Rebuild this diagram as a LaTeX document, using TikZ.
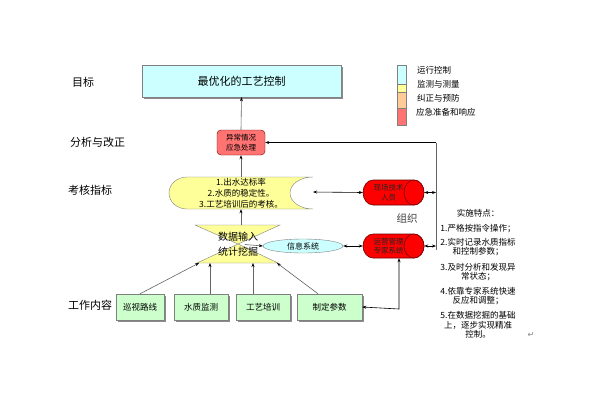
\documentclass[tikz,border=0pt]{standalone}
\usepackage{fontspec}
\setmainfont{Noto Sans CJK SC}
\newfontfamily\symfont{DejaVu Sans}
\usetikzlibrary{shapes.geometric,arrows.meta,shadows,calc}
\definecolor{cyanf}{RGB}{204,255,255}
\definecolor{yelf}{RGB}{255,255,153}
\definecolor{orgf}{RGB}{255,204,153}
\definecolor{redf}{RGB}{255,115,115}
\definecolor{grnf}{RGB}{204,255,204}
\definecolor{bord}{RGB}{128,128,128}
\definecolor{lnc}{RGB}{100,100,100}
\definecolor{dred}{RGB}{110,0,0}
\begin{document}
\begin{tikzpicture}[x=1pt,y=1pt,yscale=-1,
  lbl/.style={anchor=west,inner sep=0pt,font=\fontsize{11}{12}\selectfont},
  box/.style={draw=bord,inner sep=0pt,align=center},
  shad/.style={drop shadow={shadow xshift=1.5pt,shadow yshift=-1.5pt,fill=black!45,opacity=1}},
  conn/.style={draw=lnc,line width=0.6pt,-{Stealth[length=4pt,width=3pt,color=black]}},
  dconn/.style={draw=black,line width=0.6pt,{Stealth[length=4pt,width=3pt]}-{Stealth[length=4pt,width=3pt]}},
  plain/.style={draw=lnc,line width=0.6pt},
  cyltext/.style={inner sep=0pt,minimum width=61pt,minimum height=25pt,align=center,text=black!85,font=\fontsize{7.5}{9.5}\selectfont},
  cylbody/.style={draw=dred,fill=red,line width=0.6pt},
  legtxt/.style={anchor=west,inner sep=0pt,font=\fontsize{8.5}{10}\selectfont}
]
\fill[white] (0,0) rectangle (600,400);
\useasboundingbox (0,0) rectangle (600,400);

% left labels
\node[lbl] (l1) at (72,82) {目标};
\node[lbl] (l2) at (70,142) {分析与改正};
\node[lbl] (l3) at (68,190) {考核指标};
\node[lbl] (l4) at (68,305) {工作内容};

% goal box
\node[box,fill=cyanf,shad,minimum width=199pt,minimum height=32pt,font=\fontsize{11}{12}\selectfont] (goal) at (241.5,81) {最优化的工艺控制};

% legend
\draw[draw=bord,fill=cyanf] (397,65) rectangle (406,84);
\draw[draw=bord,fill=yelf] (397,84) rectangle (406,92);
\draw[draw=bord,fill=orgf] (397,92) rectangle (406,108);
\draw[draw=bord,fill=redf] (397,108) rectangle (406,125);
\node[legtxt] (g1) at (417,70) {运行控制};
\node[legtxt] (g2) at (417,84) {监测与测量};
\node[legtxt] (g3) at (417,98) {纠正与预防};
\node[legtxt] (g4) at (416,112.5) {应急准备和响应};

% emergency box
\node[box,draw=dred,fill=redf,rounded corners=4pt,minimum width=48pt,minimum height=25pt,font=\fontsize{7.5}{9.5}\selectfont] (emg) at (241,142.5) {异常情况\\应急处理};

% KPI shape
\draw[draw=bord,fill=yelf] (187,177) -- (313,177)
  arc[start angle=270,end angle=90,x radius=23pt,y radius=16pt] -- (187,209)
  arc[start angle=90,end angle=270,x radius=18pt,y radius=16pt] -- cycle;
\node[inner sep=0pt,align=center,minimum width=144pt,minimum height=32pt,font=\fontsize{8.5}{10.8}\selectfont] (kpi) at (241,193) {1.出水达标率\\2.水质的稳定性。\\3.工艺培训后的考核。};
\coordinate (khr) at (313,192);

% hourglass
\draw[draw=bord,fill=yelf] (195,225) -- (280,225) -- (238,244) -- (278,263) -- (197,263) -- (238,244) -- cycle;
\node[inner sep=0pt,align=center,font=\fontsize{10}{15}\selectfont] (dm) at (238,244.5) {数据输入\\统计挖掘};
\coordinate (hgt) at (241,225);
\coordinate (hb1) at (199,263);
\coordinate (hb2) at (210,263);
\coordinate (hb3) at (253,263);
\coordinate (hb4) at (277,263);
\coordinate (dmr) at (245,244.5);

% info system
\node[ellipse,draw=bord,fill=cyanf,minimum width=80pt,minimum height=14pt,inner sep=0pt,font=\fontsize{8}{9}\selectfont] (info) at (303,246) {信息系统};

% cylinders (drawn as capsule + end ellipse)
\draw[cylbody] (373,180) -- (414,180) arc[start angle=-90,end angle=90,x radius=10pt,y radius=12.5pt]
  -- (373,205) arc[start angle=90,end angle=270,x radius=10pt,y radius=12.5pt] -- cycle;
\draw[cylbody] (414,192.5) ellipse[x radius=10pt,y radius=12.5pt];
\node[cyltext] (tech) at (393.5,192.5) {\hspace*{-10pt}现场技术\\\hspace*{-10pt}人员};
\draw[cylbody] (373,234) -- (414,234) arc[start angle=-90,end angle=90,x radius=10pt,y radius=12pt]
  -- (373,258) arc[start angle=90,end angle=270,x radius=10pt,y radius=12pt] -- cycle;
\draw[cylbody] (414,246) ellipse[x radius=10pt,y radius=12pt];
\node[cyltext,minimum height=24pt] (ops) at (393.5,246) {\hspace*{-10pt}运营管理\\\hspace*{-10pt}专家系统};
\node[inner sep=0pt,text=black!75,font=\fontsize{10.5}{12}\selectfont] (org) at (407,218) {组织};

% work boxes
\node[box,fill=grnf,shad,minimum width=48pt,minimum height=26pt,font=\fontsize{8.5}{10}\selectfont] (w1) at (140,307) {巡视路线};
\node[box,fill=grnf,shad,minimum width=54pt,minimum height=26pt,font=\fontsize{8.5}{10}\selectfont] (w2) at (201,307) {水质监测};
\node[box,fill=grnf,shad,minimum width=54pt,minimum height=26pt,font=\fontsize{8.5}{10}\selectfont] (w3) at (263,307) {工艺培训};
\node[box,fill=grnf,shad,minimum width=65pt,minimum height=26pt,font=\fontsize{8.5}{10}\selectfont] (w4) at (329.5,307) {制定参数};

% right vertical line
\coordinate (vt) at (436,142.5);
\coordinate (vb) at (436,250);
\coordinate (c4) at (399,309);

% features text
\node[anchor=north,inner sep=0pt,align=center,font=\fontsize{8.5}{9.5}\selectfont] (feat) at (478,209) {实施特点：\\[5.5pt]1.严格按指令操作；\\[4.5pt]2.实时记录水质指标\\和控制参数；\\[6pt]3.及时分析和发现异\\常状态；\\[5pt]4.依靠专家系统快速\\反应和调整；\\[5.5pt]5.在数据挖掘的基础\\上，逐步实现精准\\控制。};
\node[inner sep=0pt,text=gray,font=\symfont\fontsize{8}{9}\selectfont] (ret) at (531,335) {↵};

% connectors
\draw[conn] (emg.north) -- (goal.south);
\draw[conn] (kpi.north) -- (emg.south);
\draw[conn] (hgt) -- (kpi.south);
\draw[conn] (w1.north) -- (hb1);
\draw[conn] (w2.north -| hb2) -- (hb2);
\draw[conn] (w3.north -| hb3) -- (hb3);
\draw[conn] ($(w4.north)+(-11.5,0)$) -- (hb4);
\draw[conn] (dmr) -- (info.west);
\draw[dconn] (khr) -- (tech.west);
\draw[dconn] (info.east) -- (ops.west);
\draw[plain] (vb) -- (vt);
\draw[conn,draw=black] (vt) -- (emg.east);
\draw[dconn] (tech.east) -- (tech.east -| vt);
\draw[dconn] (ops.east) -- (ops.east -| vt);
\draw[dconn] (w4.east) -- (c4) -- (c4 |- ops.south);
\end{tikzpicture}
\end{document}
